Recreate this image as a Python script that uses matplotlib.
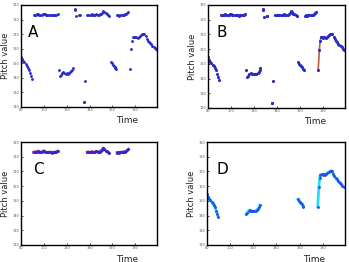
import matplotlib
matplotlib.use("Agg")
import matplotlib.pyplot as plt

# pitch track, split in pieces (time, pitch value)
seg1_t = [80, 81, 82, 83, 84, 85, 86, 87, 88, 89, 89.5]
seg1_p = [154.5, 152.8, 151.5, 150.5, 149.2, 148.2, 147.0, 145.5, 143.0, 141.0, 139.3]

top1_t = [91, 92, 93, 94, 95, 96, 97, 98, 99, 100, 101, 102, 103, 104, 105, 106, 107, 108, 109, 110, 111, 112]
top1_p = [183.0, 183.3, 183.0, 183.5, 183.8, 183.4, 183.0, 183.2, 183.6, 184.0, 183.5,
          183.1, 182.9, 183.0, 183.2, 183.0, 182.8, 183.0, 183.1, 183.0, 183.4, 183.8]

seg2_t = [113.9, 114.8, 115.9, 117, 118, 119, 120, 121, 122, 123, 124, 125, 125.5]
seg2_p = [141.0, 142.0, 143.3, 143.8, 143.3, 142.8, 143.0, 142.8, 143.2, 143.8, 144.5, 145.5, 147.0]

stray_t = [113.1, 127.5, 127.6, 128.4, 130.8, 131.4, 135.2, 135.5, 136.3]
stray_p = [145.5, 187.2, 186.8, 182.1, 182.8, 182.8, 123.3, 123.3, 138.0]

top2_t = [138, 139, 140, 141, 142, 143, 144, 145, 146, 147, 148, 149, 150, 151, 152, 153, 154, 155, 156, 157]
top2_p = [183.0, 183.3, 182.9, 183.1, 183.5, 183.2, 183.0, 183.3, 183.6, 183.4,
          183.1, 183.5, 184.0, 184.8, 185.9, 185.0, 184.2, 183.6, 183.0, 182.4]

seg3_t = [158.5, 159.3, 160.2, 161.0, 161.8, 162.6, 163.3]
seg3_p = [151.0, 150.0, 149.0, 148.3, 147.6, 146.8, 146.0]

top3_t = [164, 165, 166, 167, 168, 169, 170, 171, 172, 173, 174]
top3_p = [182.8, 183.0, 182.7, 183.1, 183.0, 183.2, 183.4, 183.5, 183.8, 184.3, 185.0]

seg4_t = [175.6, 176.6, 177.3, 178.0, 179, 180, 181, 182, 183, 184, 185, 186, 187, 188,
          189, 190, 191, 192, 193, 194, 195, 196, 197, 198, 199]
seg4_p = [146.0, 159.5, 165.5, 167.9, 168.0, 167.7, 168.2, 167.6, 168.3, 169.0, 169.5, 170.0,
          170.3, 170.4, 168.5, 166.8, 165.5, 164.8, 163.8, 162.9, 162.0, 161.2, 160.3, 159.6, 159.2]

low_segs = [(seg1_t, seg1_p), (seg2_t, seg2_p), (seg3_t, seg3_p), (seg4_t, seg4_p)]
top_segs = [(top1_t, top1_p), (top2_t, top2_p), (top3_t, top3_p)]
all_segs = low_segs + top_segs + [(stray_t, stray_p)]

x_ticks = [80, 100, 120, 140, 160, 180]
y_ticks = [120, 130, 140, 150, 160, 170, 180, 190]

dot_col = "#2c2cc8"
ms = 2.1

fig = plt.figure(figsize=(3.49, 2.62), dpi=100)
boxes = {"A": ([0.060, 0.592, 0.390, 0.389], 0.05),
         "B": ([0.596, 0.588, 0.393, 0.393], 0.06),
         "C": ([0.060, 0.065, 0.390, 0.393], 0.09),
         "D": ([0.593, 0.065, 0.395, 0.393], 0.07)}
axs = {}
for k, (b, lx) in boxes.items():
    ax = fig.add_axes(b)
    ax.set_xlim(80, 199)
    ax.set_ylim(120, 190)
    ax.set_xticks(x_ticks)
    ax.set_yticks(y_ticks)
    ax.tick_params(direction="in", length=1.5, width=0.5, labelsize=2.5,
                   labelcolor="#555555", pad=1)
    for s in ax.spines.values():
        s.set_linewidth(1.0)
    ax.set_ylabel("Pitch value", fontsize=6, color="#222222", labelpad=2)
    ax.set_xlabel("Time", fontsize=6.5, color="#222222", x=0.78, labelpad=3)
    ax.text(lx, 0.69, k, transform=ax.transAxes, fontsize=11)
    axs[k] = ax

# A: raw pitch points
for t, p in all_segs:
    axs["A"].plot(t, p, ".", color=dot_col, ms=ms)

# B: raw points, jump bridged
axs["B"].plot(seg4_t[:4], seg4_p[:4], "-", color="#b8603a", lw=1.2)
axs["B"].plot(seg2_t[-3:], seg2_p[-3:], "-", color="#c08060", lw=1.0)
for t, p in all_segs:
    axs["B"].plot(t, p, ".", color=dot_col, ms=ms + 0.4)

# C: upper pitch class
for t, p in top_segs:
    axs["C"].plot(t, p, "-", color="#c0208a", lw=2.0)
    axs["C"].plot(t, p, ".", color=dot_col, ms=ms)

# D: lower pitch class
for t, p in low_segs:
    axs["D"].plot(t, p, "-", color="#22ddff", lw=2.0)
    axs["D"].plot(t, p, ".", color="#1f55e0", ms=ms)

fig.savefig("out.png", dpi=100)
